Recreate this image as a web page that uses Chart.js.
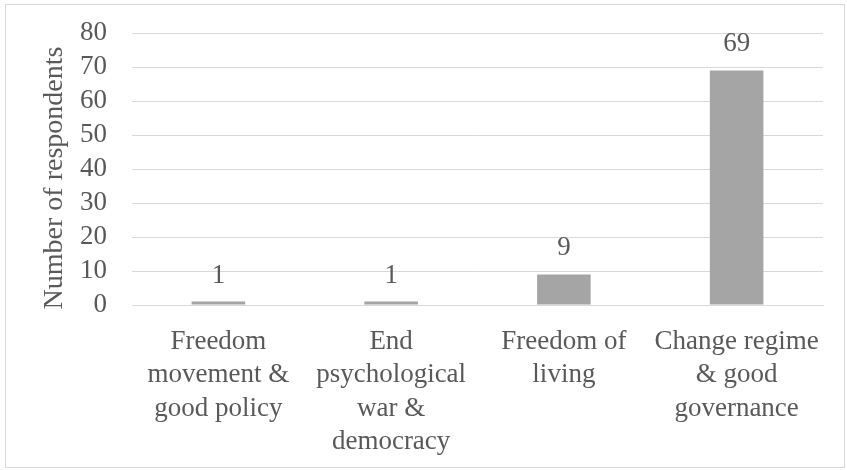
<!DOCTYPE html>
<html>
<head>
<meta charset="utf-8">
<script src="https://cdn.jsdelivr.net/npm/chart.js@4/dist/chart.umd.min.js"></script>
<style>
  html, body { margin: 0; padding: 0; background: #fff; }
  #wrap { width: 847px; height: 470px; position: relative; }
</style>
</head>
<body>
<div id="wrap"><canvas id="myBarChart" width="847" height="470"></canvas></div>
<script>
const categories = [
    ['Freedom', 'movement &', 'good policy'],
    ['End', 'psychological', 'war &', 'democracy'],
    ['Freedom of', 'living'],
    ['Change regime', '& good', 'governance']
];
const respondents = [1, 1, 9, 69];
const yTicks = [0, 10, 20, 30, 40, 50, 60, 70, 80];
const yTitle = 'Number of respondents';

const textColor = '#595959';
const gridColor = '#D9D9D9';
const fontFamily = "'Liberation Serif', 'DejaVu Serif', serif";
const fontSize = 27;

// outer frame, axis title and value labels above bars
const framePlugin = {
    id: 'frame',
    beforeDraw(chart) {
        const c = chart.ctx;
        c.save();
        c.strokeStyle = gridColor;
        c.lineWidth = 1;
        c.strokeRect(5.5, 4.5, 839, 463);
        // y axis title, centred a little below the plot middle like Excel does
        c.fillStyle = textColor;
        c.font = '28px ' + fontFamily;
        c.textAlign = 'center';
        c.textBaseline = 'middle';
        c.translate(55, 178);
        c.rotate(-Math.PI / 2);
        c.fillText(yTitle, 0, 0);
        c.restore();
    },
    afterDatasetsDraw(chart) {
        const c = chart.ctx;
        const meta = chart.getDatasetMeta(0);
        c.save();
        c.fillStyle = textColor;
        c.font = fontSize + 'px ' + fontFamily;
        c.textAlign = 'center';
        c.textBaseline = 'alphabetic';
        meta.data.forEach((bar, i) => {
            c.fillText(String(respondents[i]), bar.x, bar.y - 19);
        });
        c.restore();
    }
};

const ctx = document.getElementById('myBarChart').getContext('2d');
const myBarChart = new Chart(ctx, {
    type: 'bar',
    data: {
        labels: categories,
        datasets: [{
            data: respondents,
            backgroundColor: '#A5A5A5',
            borderWidth: 0,
            barPercentage: 0.62,
            categoryPercentage: 0.5
        }]
    },
    options: {
        responsive: false,
        animation: false,
        layout: { padding: { left: 5, right: 24, top: 33, bottom: 0 } },
        plugins: {
            legend: { display: false },
            tooltip: { enabled: false }
        },
        scales: {
            x: {
                grid: { display: false, drawTicks: false },
                border: { display: true, color: gridColor },
                ticks: {
                    color: textColor,
                    font: { family: fontFamily, size: fontSize, lineHeight: 1.24 },
                    padding: 20,
                    maxRotation: 0,
                    autoSkip: false
                },
                afterFit(scale) {
                    scale.height = 165;
                    scale.paddingLeft = 0;
                    scale.paddingRight = 0;
                }
            },
            y: {
                min: 0,
                max: 80,
                afterBuildTicks(scale) {
                    scale.ticks = yTicks.map(v => ({ value: v }));
                },
                grid: { color: gridColor, drawTicks: false },
                border: { display: false },
                ticks: {
                    color: textColor,
                    font: { family: fontFamily, size: fontSize },
                    padding: 25,
                    autoSkip: false
                },
                title: { display: false },
                afterFit(scale) {
                    scale.width = 127;
                    scale.paddingTop = 0;
                    scale.paddingBottom = 0;
                }
            }
        }
    },
    plugins: [framePlugin]
});
</script>
</body>
</html>
